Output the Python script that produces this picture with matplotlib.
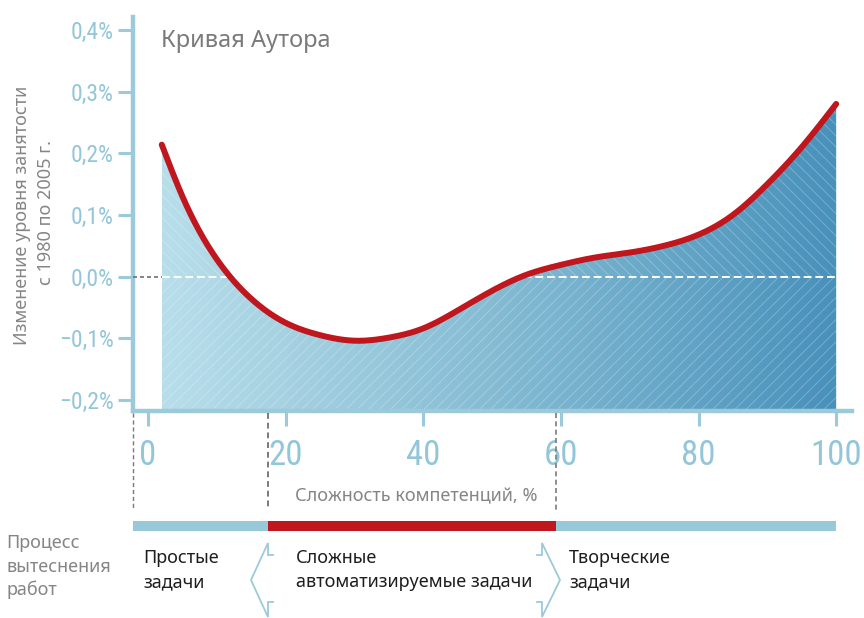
import numpy as np
import matplotlib
matplotlib.use("Agg")
import matplotlib.pyplot as plt
from matplotlib import font_manager as fm
from matplotlib.patches import Polygon
from matplotlib.colors import LinearSegmentedColormap
from matplotlib.transforms import blended_transform_factory

# ---------------- data ----------------
skill_x = [2, 5, 10, 15, 20, 25, 30, 35, 40, 45, 50, 55, 60, 65, 70, 75, 80, 85, 90, 95, 100]
employment_change = [0.214, 0.130, 0.028, -0.036, -0.075, -0.095, -0.104, -0.099, -0.084,
                     -0.055, -0.023, 0.003, 0.019, 0.031, 0.039, 0.050, 0.068, 0.100,
                     0.150, 0.210, 0.280]
x_ticks = [0, 20, 40, 60, 80, 100]
x_tick_labels = ["0", "20", "40", "60", "80", "100"]
y_ticks = [-0.2, -0.1, 0.0, 0.1, 0.2, 0.3, 0.4]
y_tick_labels = ["\u22120,2%", "\u22120,1%", "0,0%", "0,1%", "0,2%", "0,3%", "0,4%"]
zone_bounds = [-2.2, 17.4, 59.3, 100]
zone_colors = ["#98c9db", "#c0161e", "#98c9db"]
zone_line1 = ["Простые", "Сложные", "Творческие"]
zone_line2 = ["задачи", "автоматизируемые задачи", "задачи"]
title = "Кривая Аутора"
ylabel_lines = ["Изменение уровня занятости", "с 1980 по 2005 г."]
xlabel = "Сложность компетенций, %"
process_lines = ["Процесс", "вытеснения", "работ"]

# ---------------- fonts ----------------
names = {f.name for f in fm.fontManager.ttflist}
if "Liberation Sans Narrow" in names:
    cond_fp = dict(family="Liberation Sans Narrow")
elif "Roboto Condensed" in names:
    cond_fp = dict(family="Roboto Condensed")
else:
    cond_fp = dict(family="DejaVu Sans", stretch="condensed")
body = "Noto Sans" if "Noto Sans" in names else "DejaVu Sans"
plt.rcParams["font.family"] = [body, "DejaVu Sans"]

spine_c = "#9ccadb"
lab_c = "#93c6d9"
gray_t = "#858585"
dark_t = "#1e1e1e"

plt.rcParams["hatch.linewidth"] = 0.6
plt.rcParams["hatch.color"] = "#ffffff48"

W, H = 864, 618
fig = plt.figure(figsize=(W / 100, H / 100), dpi=100)
ax = fig.add_axes([133 / W, 1 - 411 / H, (852 - 133) / W, (411 - 17) / H])
XMIN, XMAX, YMIN, YMAX = -2.18, 102.3, -0.218, 0.421

# smooth curve: natural cubic spline through the read points
xs = np.array(skill_x, float)
ys = np.array(employment_change, float)
n = len(xs)
hh = np.diff(xs)
A = np.zeros((n, n))
b = np.zeros(n)
A[0, 0] = A[-1, -1] = 1.0
for i in range(1, n - 1):
    A[i, i - 1] = hh[i - 1]
    A[i, i] = 2 * (hh[i - 1] + hh[i])
    A[i, i + 1] = hh[i]
    b[i] = 6 * ((ys[i + 1] - ys[i]) / hh[i] - (ys[i] - ys[i - 1]) / hh[i - 1])
M = np.linalg.solve(A, b)
xf = np.linspace(xs[0], xs[-1], 800)
idx = np.clip(np.searchsorted(xs, xf, side="right") - 1, 0, n - 2)
x0, x1 = xs[idx], xs[idx + 1]
hi = x1 - x0
yf = (M[idx] * (x1 - xf) ** 3 / (6 * hi) + M[idx + 1] * (xf - x0) ** 3 / (6 * hi)
      + (ys[idx] / hi - M[idx] * hi / 6) * (x1 - xf)
      + (ys[idx + 1] / hi - M[idx + 1] * hi / 6) * (xf - x0))

# gradient fill under curve
cmap = LinearSegmentedColormap.from_list("g", ["#b8deea", "#84bbd3", "#4891bb"])
grad = np.linspace(0, 1, 256).reshape(1, -1)
im = ax.imshow(grad, extent=[xs[0], xs[-1], YMIN, YMAX], aspect="auto", cmap=cmap,
               origin="lower", zorder=1, interpolation="bilinear")
poly = Polygon(np.column_stack([np.r_[xf, xf[-1], xf[0]], np.r_[yf, YMIN, YMIN]]),
               closed=True, facecolor="none", edgecolor="none", transform=ax.transData)
ax.add_patch(poly)
im.set_clip_path(poly)

# hatching
ax.fill_between(xf, 0, yf, where=yf >= 0, interpolate=True, facecolor="none",
                edgecolor="#ffffff48", linewidth=0, hatch="\\\\\\", zorder=2)
ax.fill_between(xf, YMIN, np.minimum(yf, 0), facecolor="none",
                edgecolor="#ffffff48", linewidth=0, hatch="///", zorder=2)

# zero line
ax.plot([XMIN, xs[0]], [0, 0], color="#707070", lw=1.2, ls=(0, (2.4, 1.8)), zorder=3)
ax.plot([xs[0], xs[-1]], [0, 0], color="white", lw=1.4, ls=(0, (4, 2)), zorder=3)

# curve
ax.plot(xf, yf, color="#c0161e", lw=4.3, solid_capstyle="round", zorder=5)

ax.set_xlim(XMIN, XMAX)
ax.set_ylim(YMIN, YMAX)
for s in ["top", "right"]:
    ax.spines[s].set_visible(False)
for s in ["left", "bottom"]:
    ax.spines[s].set_color(spine_c)
    ax.spines[s].set_linewidth(3.2)

ax.set_xticks(x_ticks)
ax.set_xticklabels(x_tick_labels, **cond_fp)
ax.set_yticks(y_ticks)
ax.set_yticklabels(y_tick_labels, **cond_fp)
ax.tick_params(axis="x", length=11, width=2.2, color=spine_c, pad=9, labelsize=25, labelcolor=lab_c)
ax.tick_params(axis="y", length=11, width=2.2, color=spine_c, pad=3, labelsize=17, labelcolor=lab_c)

# bottom decoration in x-data / axes-fraction coords
tr = blended_transform_factory(ax.transData, ax.transAxes)
def yfrac(px):
    return (411 - px) / (411 - 17)

for xb, lw in zip([zone_bounds[0], zone_bounds[1], zone_bounds[2]], [1.0, 1.4, 1.2]):
    ax.plot([xb, xb], [yfrac(413), yfrac(510)], transform=tr, clip_on=False,
            color="#7a7a7a", lw=lw, ls=(0, (3, 2)), zorder=3)

for i in range(3):
    ax.plot([zone_bounds[i], zone_bounds[i + 1]], [yfrac(526), yfrac(526)], transform=tr,
            clip_on=False, color=zone_colors[i], lw=7.2, solid_capstyle="butt", zorder=3)

# chevrons (overlay axes in pixel coordinates)
ov = fig.add_axes([0, 0, 1, 1], facecolor="none")
ov.set_xlim(0, W)
ov.set_ylim(H, 0)
ov.axis("off")
ov.plot([273, 268, 268, 251, 268, 268, 273], [555, 555, 543, 580, 617, 602, 602],
        color=spine_c, lw=1.3, solid_joinstyle="miter")
ov.plot([537, 542, 542, 560, 542, 542, 537], [555, 555, 543, 580, 617, 602, 602],
        color=spine_c, lw=1.3, solid_joinstyle="miter")

# texts
fig.text(161 / W, 1 - 47 / H, title, ha="left", va="baseline", fontsize=17, color="#7a7a7a")
fig.text(22 / W, 1 - 215 / H, ylabel_lines[0], rotation=90, ha="center", va="center",
         fontsize=13, color=gray_t)
fig.text(46 / W, 1 - 213 / H, ylabel_lines[1], rotation=90, ha="center", va="center",
         fontsize=13, color=gray_t)
fig.text(416 / W, 1 - 496 / H, xlabel, ha="center", va="center", fontsize=13, color=gray_t)

for j, (line, base) in enumerate(zip(process_lines, [548, 572, 595])):
    fig.text(6 / W, 1 - base / H, line, ha="left", va="baseline", fontsize=13, color=gray_t)

zone_text_x = [143, 296, 569]
for i in range(3):
    fig.text(zone_text_x[i] / W, 1 - 563 / H, zone_line1[i], ha="left", va="baseline",
             fontsize=13, color=dark_t)
    fig.text(zone_text_x[i] / W, 1 - 587 / H, zone_line2[i], ha="left", va="baseline",
             fontsize=13, color=dark_t)

fig.savefig("out.png", dpi=100)
